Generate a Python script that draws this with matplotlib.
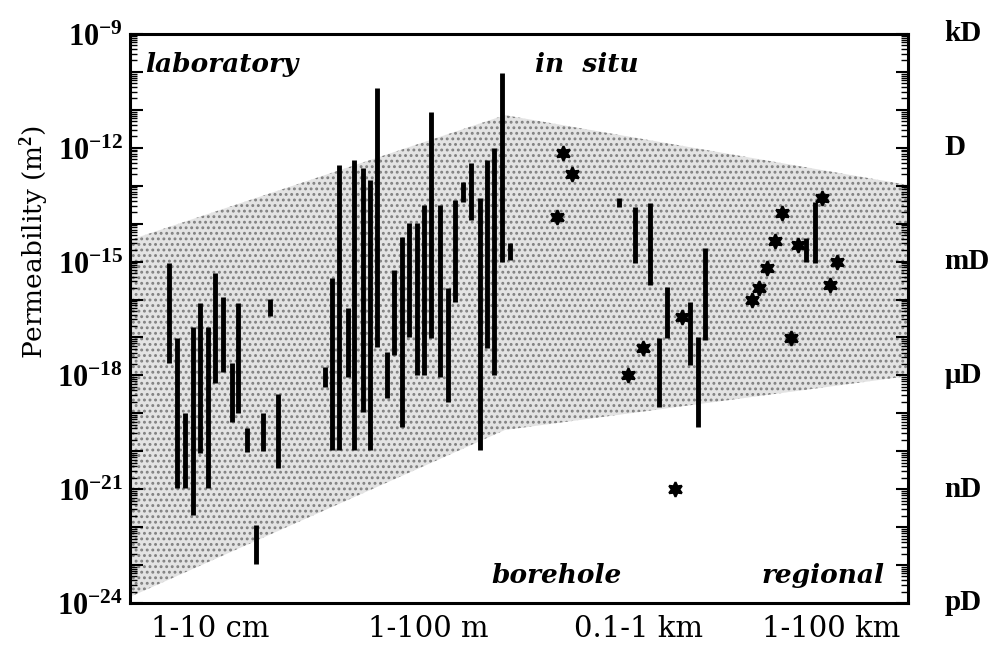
import numpy as np
import matplotlib
matplotlib.use("Agg")
import matplotlib.pyplot as plt
from matplotlib.ticker import FixedLocator, FuncFormatter, NullFormatter

plt.rcParams["font.family"] = ["DejaVu Serif"]
plt.rcParams["mathtext.fontset"] = "custom"
plt.rcParams["mathtext.rm"] = "Liberation Serif"
plt.rcParams["mathtext.bf"] = "Liberation Serif:bold"
plt.rcParams["hatch.linewidth"] = 1.3

# horizontal position runs 0-100 across the scale classes; values are log10(k / m^2)
lab_x = [5.0, 6.0, 7.1, 8.1, 9.0, 10.0, 10.9, 12.0, 13.1, 13.9, 15.0, 16.2, 17.1, 18.0, 19.0]
lab_lo = [-17.67, -20.97, -20.97, -21.68, -20.05, -20.97, -18.20, -17.91, -19.23, -18.99,
          -20.02, -22.97, -19.99, -16.43, -20.44]
lab_hi = [-15.04, -17.01, -19.00, -16.72, -16.09, -16.72, -15.30, -15.93, -17.67, -16.09,
          -19.39, -21.94, -18.99, -15.99, -18.49]

situ_x = [25.1, 26.0, 26.9, 28.0, 28.8, 29.9, 30.8, 31.7, 33.0, 33.9, 35.0, 35.9, 36.9,
          37.8, 38.7, 39.8, 40.9, 41.8, 42.8, 43.8, 45.0, 45.9, 46.8, 47.8, 48.8]
situ_lo = [-18.30, -19.97, -19.97, -18.04, -19.97, -18.97, -19.97, -17.25, -18.60, -17.46,
           -19.36, -16.99, -17.99, -17.99, -17.01, -18.04, -18.70, -16.07, -13.43, -13.90,
           -19.97, -17.28, -17.99, -15.01, -14.96]
situ_hi = [-17.77, -15.43, -12.45, -16.22, -12.32, -12.53, -12.85, -10.42, -17.38, -15.22,
           -14.35, -13.98, -13.98, -13.51, -11.06, -13.51, -15.70, -13.38, -12.90, -12.40,
           -13.32, -12.32, -12.01, -10.03, -14.51]

bore_x = [62.9, 64.9, 66.8, 68.0, 69.0, 72.0, 73.0, 73.9]
bore_lo = [-13.56, -15.04, -15.62, -18.83, -17.01, -17.73, -19.36, -17.07]
bore_hi = [-13.32, -13.56, -13.46, -17.01, -15.67, -16.07, -16.99, -14.64]

reg_x = [86.9, 88.0]
reg_lo = [-15.01, -15.04]
reg_hi = [-14.38, -13.43]

star_x = [54.9, 55.7, 56.8, 64.0, 65.9, 70.1, 71.0, 79.9, 80.8, 81.9, 82.9, 83.8, 85.0,
          85.9, 88.9, 90.0, 90.9]
star_k = [-13.82, -12.14, -12.69, -17.99, -17.28, -21.0, -16.46, -16.01, -15.70, -15.17,
          -14.46, -13.72, -17.01, -14.56, -13.32, -15.62, -15.01]

band_x = [0, 48.2, 100, 100, 48.2, 0]
band_k = [-14.43, -11.14, -12.98, -18.02, -19.44, -23.84]

scale_pos = [10.3, 38.3, 65.4, 90.1]
scale_labels = ["1-10 cm", "1-100 m", "0.1-1 km", "1-100 km"]

darcy_exp = [-9, -12, -15, -18, -21, -24]
darcy_labels = ["kD", "D", "mD", "\u03bcD", "nD", "pD"]

fig = plt.figure(figsize=(9.96, 6.46), dpi=100)
ax = fig.add_axes([0.1305, 0.0666, 0.7811, 0.8808])
ax.set_yscale("log")
ax.set_xlim(0, 100)
ax.set_ylim(1e-24, 1e-9)

ax.fill(band_x, 10.0 ** np.array(band_k), facecolor="#e3e3e3", edgecolor="#808080",
        hatch="...", linewidth=0, zorder=1)

xs = lab_x + situ_x + bore_x + reg_x
lo = lab_lo + situ_lo + bore_lo + reg_lo
hi = lab_hi + situ_hi + bore_hi + reg_hi
ax.vlines(xs, 10.0 ** np.array(lo), 10.0 ** np.array(hi), color="black", lw=3.5,
          capstyle="butt", zorder=3)
ax.plot(star_x, 10.0 ** np.array(star_k), ls="none", marker=(6, 1, 0), ms=10.5, mew=1.6,
        color="black", zorder=4)

# axes decoration
for s in ax.spines.values():
    s.set_linewidth(2.2)
major = [10.0 ** e for e in range(-24, -8)]
minor = [m * 10.0 ** e for e in range(-24, -9) for m in range(2, 10)]
ax.yaxis.set_major_locator(FixedLocator(major))
ax.yaxis.set_minor_locator(FixedLocator(minor))
ax.yaxis.set_minor_formatter(NullFormatter())


def _fmt(v, pos):
    e = int(round(np.log10(v)))
    return r"$\mathbf{10^{%d}}$" % e if e % 3 == 0 else ""


ax.yaxis.set_major_formatter(FuncFormatter(_fmt))
ax.tick_params(axis="y", which="major", direction="in", length=9, width=1.5,
               right=True, labelsize=22, pad=5)
ax.tick_params(axis="y", which="minor", direction="in", length=5, width=1.0, right=True)
ax.set_xticks(scale_pos)
ax.set_xticklabels(scale_labels)
ax.tick_params(axis="x", length=0, labelsize=21, pad=9)

ax.set_ylabel(r"Permeability (m$^{\mathbf{2}}$)", fontsize=19)
ax.yaxis.set_label_coords(-0.102, 0.634)

for e, lab in zip(darcy_exp, darcy_labels):
    ax.text(1.047, 10.0 ** e, lab, transform=ax.get_yaxis_transform(), ha="left",
            va="center", fontsize=21, fontweight="bold", family="Liberation Serif")

kw = dict(fontsize=19, fontstyle="italic", fontweight="bold", transform=ax.transAxes)
ax.text(0.019, 0.946, "laboratory", ha="left", va="center", **kw)
ax.text(0.521, 0.946, "in  situ", ha="left", va="center", **kw)
ax.text(0.465, 0.049, "borehole", ha="left", va="center", **kw)
ax.text(0.970, 0.049, "regional", ha="right", va="center", **kw)

fig.savefig("out.png", dpi=100)
